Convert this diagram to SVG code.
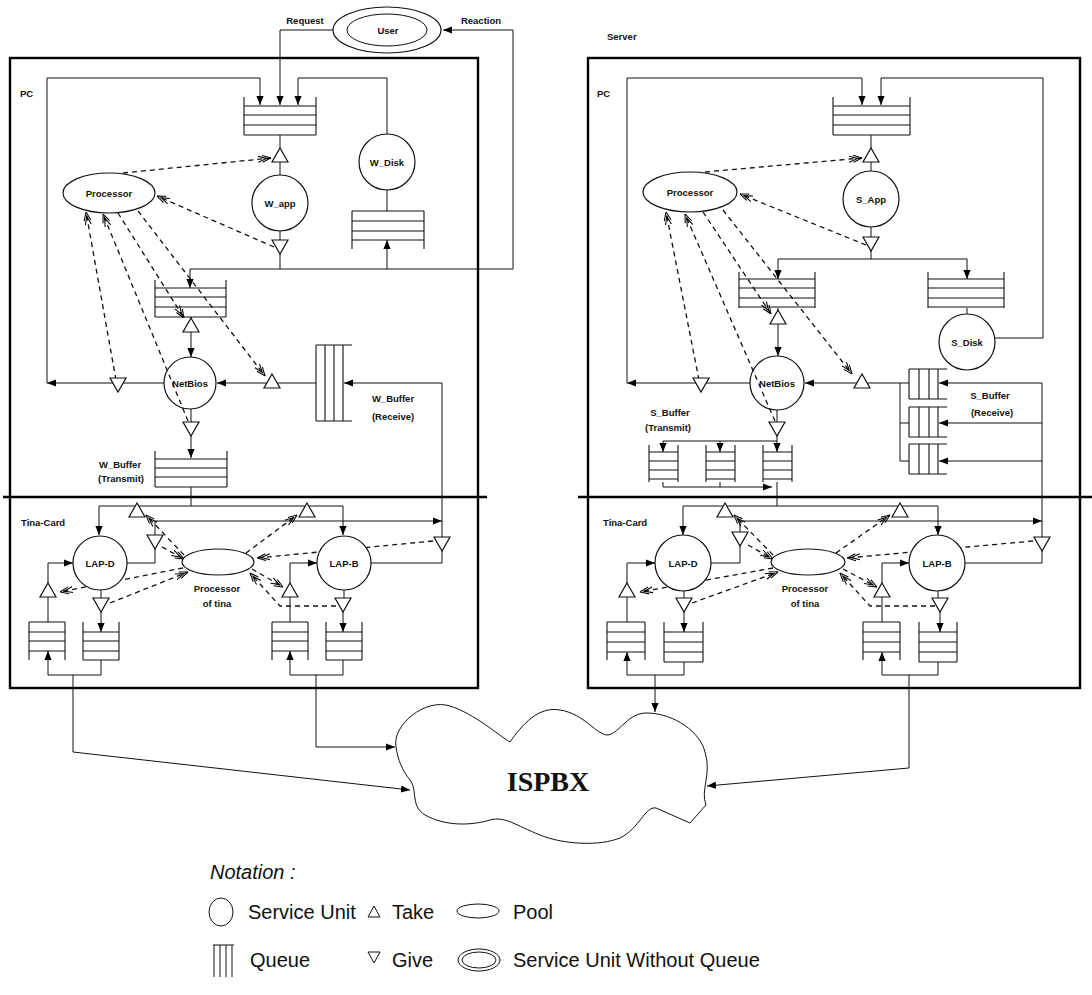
<svg xmlns="http://www.w3.org/2000/svg" xmlns:xlink="http://www.w3.org/1999/xlink" width="1092" height="995" viewBox="0 0 1092 995">
<style>
.l{stroke:#111;stroke-width:1;fill:none}
.q{stroke:#111;stroke-width:1.1;fill:none}
.d{stroke:#111;stroke-width:1.3;stroke-dasharray:5 4;fill:none}
.box{stroke:#000;stroke-width:2.4;fill:none}
.n{stroke:#111;stroke-width:1.2;fill:#fff}
.nb{stroke:#111;stroke-width:1.2;fill:none}
.tri{stroke:#111;stroke-width:1.2;fill:#fff}
.t{font-family:"Liberation Sans",Arial,sans-serif;font-weight:bold;font-size:9.5px;text-anchor:middle;fill:#111}
.s{text-anchor:start}
.lg{font-family:"Liberation Sans",Arial,sans-serif;font-size:20px;fill:#111}
</style>
<defs>
<marker id="a" viewBox="0 0 10 10" refX="10" refY="5" markerWidth="9" markerHeight="9" orient="auto" markerUnits="userSpaceOnUse"><path d="M0,1L10,5L0,9Z" fill="#000"/></marker>
<marker id="o" viewBox="-5 0 15 10" refX="10" refY="5" markerWidth="13" markerHeight="9" orient="auto" markerUnits="userSpaceOnUse"><path d="M0,1L10,5L0,9M-5,1.5L5,5L-5,8.5" fill="none" stroke="#000" stroke-width="1.2"/></marker>
<path id="tu" class="tri" d="M0,-7L8,7L-8,7Z"/>
<path id="td" class="tri" d="M-8,-7L8,-7L0,7Z"/>
</defs>
<rect width="1092" height="995" fill="#fff"/>

<!-- connectors -->
<g id="connectors">
<!-- left PC -->
<path class="l" d="M333,30H280V105" marker-end="url(#a)"/>
<path class="l" d="M47,383V78H260V105" marker-end="url(#a)"/>
<path class="l" d="M387,134V78H298V105" marker-end="url(#a)"/>
<path class="l" d="M280,135V148M280,162V175M280,231V240M280,254V269"/>
<path class="l" d="M190,269H513V30H443" marker-end="url(#a)"/>
<path class="l" d="M190,269V288" marker-end="url(#a)"/>
<path class="l" d="M387,190V211"/>
<path class="l" d="M387,269V240" marker-end="url(#a)"/>
<path class="l" d="M191,317V318M191,332V357" marker-end="url(#a)"/>
<path class="l" d="M164,383H47" marker-end="url(#a)"/>
<path class="l" d="M316,383H217" marker-end="url(#a)"/>
<path class="l" d="M442,383H344" marker-end="url(#a)"/>
<path class="l" d="M442,383V537"/>
<path class="l" d="M191,409V422M191,436V458" marker-end="url(#a)"/>
<path class="l" d="M191,487V506M99,506H343"/>
<path class="l" d="M99,506V535" marker-end="url(#a)"/>
<path class="l" d="M343,506V535" marker-end="url(#a)"/>
<path class="l" d="M155,521H442" marker-end="url(#a)"/>
<path class="l" d="M155,521V535M155,549V563H127"/>
<path class="l" d="M442,551V563H371"/>
<path class="l" d="M48,583V563H73" marker-end="url(#a)"/>
<path class="l" d="M48,597V622M101,590V598"/>
<path class="l" d="M101,612V632" marker-end="url(#a)"/>
<path class="l" d="M48,675V651" marker-end="url(#a)"/>
<path class="l" d="M48,675H101V660"/>
<path class="l" d="M290,583V563H317" marker-end="url(#a)"/>
<path class="l" d="M290,597V622M344,590V598"/>
<path class="l" d="M343,612V632" marker-end="url(#a)"/>
<path class="l" d="M290,675V651" marker-end="url(#a)"/>
<path class="l" d="M290,675H343V660"/>
<path class="l" d="M73,675V752L410,790" marker-end="url(#a)"/>
<path class="l" d="M316,675V747H395" marker-end="url(#a)"/>
<!-- left dashed -->
<path class="d" d="M123,173L271,158" marker-end="url(#o)"/>
<path class="d" d="M274,247L157,196" marker-end="url(#o)"/>
<path class="d" d="M116,380L86,212" marker-end="url(#o)"/>
<path class="d" d="M188,421L103,214" marker-end="url(#o)"/>
<path class="d" d="M118,213L184,318" marker-end="url(#o)"/>
<path class="d" d="M138,211L265,376" marker-end="url(#o)"/>
<path class="d" d="M184,555L146,515" marker-end="url(#o)"/>
<path class="d" d="M162,547L184,559" marker-end="url(#o)"/>
<path class="d" d="M246,553L297,515" marker-end="url(#o)"/>
<path class="d" d="M433,541L257,558" marker-end="url(#o)"/>
<path class="d" d="M183,568L60,592" marker-end="url(#o)"/>
<path class="d" d="M110,603L188,572" marker-end="url(#o)"/>
<path class="d" d="M252,569L283,587" marker-end="url(#o)"/>
<path class="d" d="M336,606H280L250,573" marker-end="url(#o)"/>

<!-- right PC -->
<path class="l" d="M627,383V78H862V105" marker-end="url(#a)"/>
<path class="l" d="M995,338H1043V78H881V105" marker-end="url(#a)"/>
<path class="l" d="M871,135V148M871,162V171M871,227V237M871,251V259M778,259H967"/>
<path class="l" d="M778,259V279" marker-end="url(#a)"/>
<path class="l" d="M967,259V279" marker-end="url(#a)"/>
<path class="l" d="M967,308V314M778,308V310"/>
<path class="l" d="M778,324V356" marker-end="url(#a)"/>
<path class="l" d="M750,383H627" marker-end="url(#a)"/>
<path class="l" d="M909,383H805" marker-end="url(#a)"/>
<path class="l" d="M1042,383H939" marker-end="url(#a)"/>
<path class="l" d="M1042,423H939" marker-end="url(#a)"/>
<path class="l" d="M1042,461H939" marker-end="url(#a)"/>
<path class="l" d="M1042,383V537"/>
<path class="l" d="M900,383V461M900,423H909M900,461H909"/>
<path class="l" d="M777,410V422M777,436V441M663,441H777"/>
<path class="l" d="M663,441V452" marker-end="url(#a)"/>
<path class="l" d="M720,441V452" marker-end="url(#a)"/>
<path class="l" d="M777,441V452" marker-end="url(#a)"/>
<path class="l" d="M663,482V487H772" marker-end="url(#a)"/>
<path class="l" d="M720,482V487M777,482V506M683,506H938"/>
<path class="l" d="M683,506V535" marker-end="url(#a)"/>
<path class="l" d="M938,506V535" marker-end="url(#a)"/>
<path class="l" d="M740,521H1042" marker-end="url(#a)"/>
<path class="l" d="M740,521V532M740,546V563H711"/>
<path class="l" d="M1042,551V563H965"/>
<path class="l" d="M627,583V563H655" marker-end="url(#a)"/>
<path class="l" d="M627,597V622M684,591V598"/>
<path class="l" d="M684,612V632" marker-end="url(#a)"/>
<path class="l" d="M627,675V652" marker-end="url(#a)"/>
<path class="l" d="M627,675H684V662"/>
<path class="l" d="M882,583V563H909" marker-end="url(#a)"/>
<path class="l" d="M882,597V622M938,591V598"/>
<path class="l" d="M940,612V632" marker-end="url(#a)"/>
<path class="l" d="M882,675V652" marker-end="url(#a)"/>
<path class="l" d="M882,675H938V662"/>
<path class="l" d="M655,675V712" marker-end="url(#a)"/>
<path class="l" d="M909,675V768L707,786" marker-end="url(#a)"/>
<!-- right dashed -->
<path class="d" d="M705,172L862,158" marker-end="url(#o)"/>
<path class="d" d="M866,245L740,194" marker-end="url(#o)"/>
<path class="d" d="M699,380L666,212" marker-end="url(#o)"/>
<path class="d" d="M775,421L685,214" marker-end="url(#o)"/>
<path class="d" d="M703,212L771,314" marker-end="url(#o)"/>
<path class="d" d="M723,210L852,374" marker-end="url(#o)"/>
<path class="d" d="M773,555L734,515" marker-end="url(#o)"/>
<path class="d" d="M748,545L773,559" marker-end="url(#o)"/>
<path class="d" d="M836,553L890,515" marker-end="url(#o)"/>
<path class="d" d="M1033,541L847,558" marker-end="url(#o)"/>
<path class="d" d="M773,568L640,592" marker-end="url(#o)"/>
<path class="d" d="M692,603L778,572" marker-end="url(#o)"/>
<path class="d" d="M843,569L877,587" marker-end="url(#o)"/>
<path class="d" d="M935,606H870L840,573" marker-end="url(#o)"/>
</g>

<!-- frames -->
<g id="pc-left-frame">
<rect class="box" x="10" y="58" width="468" height="630"/>
<line x1="3" y1="497" x2="487" y2="497" stroke="#000" stroke-width="2.4"/>
<text class="t s" x="20" y="97">PC</text>
<text class="t s" x="21" y="526">Tina-Card</text>
</g>
<g id="server-frame">
<rect class="box" x="588" y="58" width="492" height="630"/>
<line x1="578" y1="497" x2="1092" y2="497" stroke="#000" stroke-width="2.4"/>
<text class="t s" x="607" y="40">Server</text>
<text class="t s" x="597" y="97">PC</text>
<text class="t s" x="603" y="526">Tina-Card</text>
</g>

<!-- user -->
<g id="user">
<ellipse class="n" cx="387" cy="30" rx="54" ry="23" stroke-width="1.5"/>
<ellipse class="l" cx="387" cy="30" rx="40" ry="16" stroke-width="1.3"/>
<text class="t" x="388" y="34">User</text>
<text class="t" x="305" y="24">Request</text>
<text class="t" x="481" y="24">Reaction</text>
</g>

<!-- left nodes -->
<g id="l-queue-in"><path class="q" d="M244,97V135M316,97V135M244,106H316M244,115H316M244,125H316M244,135H316"/></g>
<g id="l-wapp"><circle class="n" cx="280" cy="203" r="28"/><text class="t" x="280" y="207">W_app</text></g>
<g id="l-wdisk"><circle class="n" cx="387" cy="162" r="28"/><text class="t" x="387" y="166">W_Disk</text></g>
<g id="l-wdisk-queue"><path class="q" d="M352,211V249M424,211V249M352,211H424M352,221H424M352,231H424M352,240H424"/></g>
<g id="l-processor"><ellipse class="n" cx="109" cy="193" rx="46" ry="20"/><text class="t" x="109" y="197">Processor</text></g>
<g id="l-queue-net"><path class="q" d="M155,280V317M226,280V317M155,288H226M155,297H226M155,307H226M155,317H226"/></g>
<g id="l-netbios"><circle class="nb" cx="190" cy="383" r="26"/><text class="t" x="190" y="387">NetBios</text></g>
<g id="l-wbuf-rx"><path class="q" d="M316,345H352M316,421H352M316,345V421M325,345V421M334,345V421M343,345V421"/>
<text class="t" x="393" y="402">W_Buffer</text><text class="t" x="393" y="420">(Receive)</text></g>
<g id="l-wbuf-tx"><path class="q" d="M155,451V487M227,451V487M155,459H227M155,468H227M155,477H227M155,487H227"/>
<text class="t" x="120" y="468">W_Buffer</text><text class="t" x="121" y="482">(Transmit)</text></g>
<g id="l-lapd"><circle class="n" cx="100" cy="563" r="27"/><text class="t" x="100" y="567">LAP-D</text></g>
<g id="l-lapb"><circle class="n" cx="344" cy="563" r="27"/><text class="t" x="344" y="567">LAP-B</text></g>
<g id="l-ptina"><ellipse class="n" cx="218" cy="562" rx="36" ry="13"/><text class="t" x="217" y="592">Processor</text><text class="t" x="217" y="607">of tina</text></g>
<g id="l-lap-queues"><path class="q" d="M29,622V660M65,622V660M29,622H65M29,632H65M29,641H65M29,651H65M83,622V660M119,622V660M83,632H119M83,641H119M83,651H119M83,660H119M272,622V660M308,622V660M272,622H308M272,632H308M272,641H308M272,651H308M326,622V660M362,622V660M326,632H362M326,641H362M326,651H362M326,660H362"/></g>
<g id="l-triangles">
<use href="#tu" x="280" y="155"/><use href="#td" x="280" y="247"/>
<use href="#tu" x="191" y="325"/><use href="#td" x="118" y="385"/>
<use href="#tu" x="272" y="381"/><use href="#td" x="191" y="429"/>
<use href="#tu" x="137" y="510"/><use href="#tu" x="307" y="510"/>
<use href="#td" x="155" y="542"/><use href="#td" x="442" y="544"/>
<use href="#tu" x="48" y="590"/><use href="#td" x="101" y="605"/>
<use href="#tu" x="290" y="590"/><use href="#td" x="343" y="605"/>
</g>

<!-- right nodes -->
<g id="r-queue-in"><path class="q" d="M833,97V135M910,97V135M833,106H910M833,115H910M833,125H910M833,135H910"/></g>
<g id="r-sapp"><circle class="n" cx="871" cy="199" r="28"/><text class="t" x="871" y="203">S_App</text></g>
<g id="r-processor"><ellipse class="n" cx="690" cy="192" rx="47" ry="20"/><text class="t" x="690" y="196">Processor</text></g>
<g id="r-queue-s1"><path class="q" d="M739,272V308M815,272V308M739,279H815M739,288H815M739,298H815M739,307H815"/></g>
<g id="r-queue-s2"><path class="q" d="M928,272V308M1004,272V308M928,279H1004M928,288H1004M928,298H1004M928,307H1004"/></g>
<g id="r-sdisk"><circle class="n" cx="967" cy="342" r="28"/><text class="t" x="967" y="346">S_Disk</text></g>
<g id="r-netbios"><circle class="nb" cx="777" cy="383" r="27"/><text class="t" x="777" y="387">NetBios</text></g>
<g id="r-sbuf-rx"><path class="q" d="M909,369H947M909,399H947M909,369V399M919,369V399M929,369V399M938,369V399M909,407H947M909,437H947M909,407V437M919,407V437M929,407V437M938,407V437M909,444H947M909,474H947M909,444V474M919,444V474M929,444V474M938,444V474"/>
<text class="t" x="990" y="399">S_Buffer</text><text class="t" x="992" y="416">(Receive)</text></g>
<g id="r-sbuf-tx"><path class="q" d="M649,445V482M678,445V482M649,452H678M649,461H678M649,470H678M649,479H678M706,445V482M735,445V482M706,452H735M706,461H735M706,470H735M706,479H735M763,445V482M792,445V482M763,452H792M763,461H792M763,470H792M763,479H792"/>
<text class="t" x="670" y="416">S_Buffer</text><text class="t" x="668" y="431">(Transmit)</text></g>
<g id="r-lapd"><circle class="n" cx="683" cy="563" r="28"/><text class="t" x="683" y="567">LAP-D</text></g>
<g id="r-lapb"><circle class="n" cx="937" cy="563" r="28"/><text class="t" x="937" y="567">LAP-B</text></g>
<g id="r-ptina"><ellipse class="n" cx="808" cy="562" rx="37" ry="13"/><text class="t" x="805" y="592">Processor</text><text class="t" x="805" y="607">of tina</text></g>
<g id="r-lap-queues"><path class="q" d="M607,622V660M645,622V660M607,622H645M607,632H645M607,642H645M607,652H645M664,622V662M703,622V662M664,632H703M664,642H703M664,652H703M664,662H703M863,622V660M900,622V660M863,622H900M863,632H900M863,642H900M863,652H900M919,622V662M957,622V662M919,632H957M919,642H957M919,652H957M919,662H957"/></g>
<g id="r-triangles">
<use href="#tu" x="871" y="155"/><use href="#td" x="871" y="244"/>
<use href="#tu" x="778" y="317"/><use href="#td" x="701" y="385"/>
<use href="#tu" x="862" y="381"/><use href="#td" x="777" y="429"/>
<use href="#tu" x="725" y="510"/><use href="#tu" x="900" y="510"/>
<use href="#td" x="740" y="539"/><use href="#td" x="1042" y="544"/>
<use href="#tu" x="627" y="590"/><use href="#td" x="684" y="605"/>
<use href="#tu" x="882" y="590"/><use href="#td" x="940" y="605"/>
</g>

<!-- ISPBX -->
<g id="ispbx">
<path class="l" stroke-width="1.2" d="M396,747C392,725 425,698 450,706C475,714 498,735 510,742C522,725 538,706 560,710C585,714 596,735 608,735C620,733 628,712 648,713C675,714 700,732 705,752C712,775 700,790 706,805L690,823L656,808C645,806 640,828 620,838C600,846 565,845 540,835C515,825 505,816 490,820C470,826 445,826 425,815C410,806 418,790 410,780C402,770 398,760 396,747Z"/>
<text x="548" y="791" text-anchor="middle" font-family="'Liberation Serif','Times New Roman',serif" font-weight="bold" font-size="28" fill="#111">ISPBX</text>
</g>

<!-- legend -->
<g id="legend">
<text class="lg" x="210" y="879" font-style="italic" font-size="19">Notation :</text>
<ellipse class="l" cx="221" cy="912" rx="12" ry="14"/>
<text class="lg" x="248" y="919">Service Unit</text>
<path class="l" d="M374,906L380,917L368,917Z"/>
<text class="lg" x="392" y="919">Take</text>
<ellipse class="l" cx="478" cy="911" rx="21" ry="7"/>
<text class="lg" x="513" y="919">Pool</text>
<path class="l" stroke-width="0.8" d="M213,945H234M214,945V977M220,945V977M226,945V977M232,945V977"/>
<text class="lg" x="250" y="967">Queue</text>
<path class="l" d="M368,952L380,952L374,963Z"/>
<text class="lg" x="392" y="967">Give</text>
<ellipse class="l" cx="479" cy="960" rx="21" ry="11"/>
<ellipse class="l" cx="479" cy="960" rx="17" ry="8"/>
<text class="lg" x="513" y="967">Service Unit Without Queue</text>
</g>
</svg>
